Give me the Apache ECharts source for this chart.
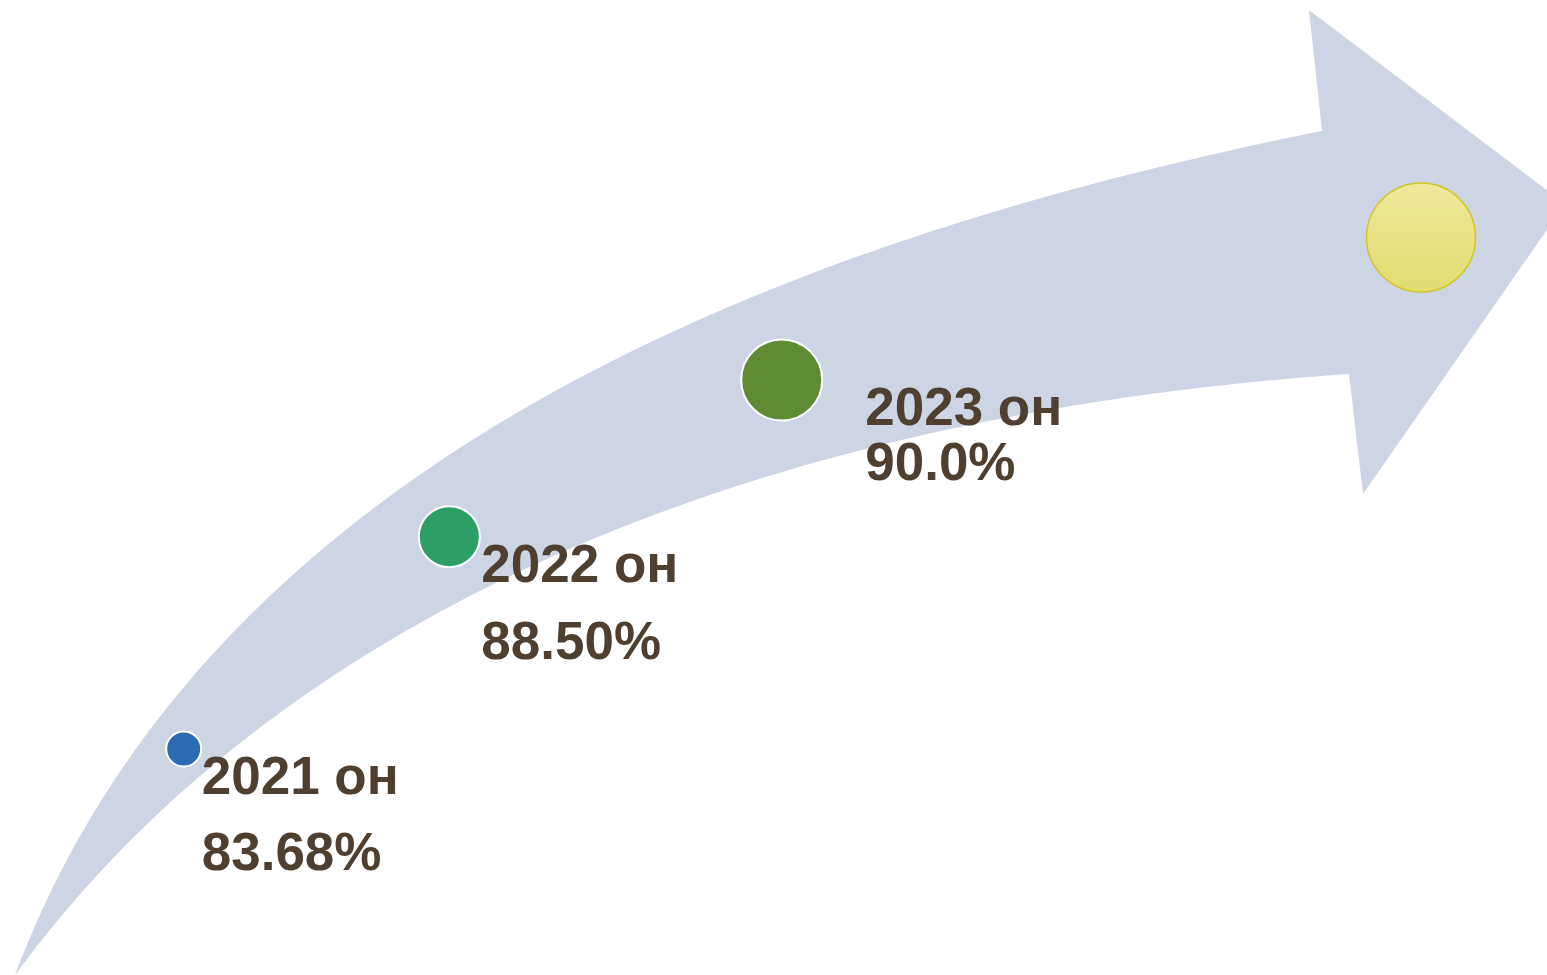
<!DOCTYPE html>
<html>
<head>
<meta charset="utf-8">
<script src="https://cdn.jsdelivr.net/npm/echarts@6/dist/echarts.min.js"></script>
<style>
  html, body { margin: 0; padding: 0; background: #ffffff; }
  #chart { width: 1547px; height: 975px; }
</style>
</head>
<body>
<div id="chart"></div>
<script>
// ---- data ----
const years = ['2021', '2022', '2023', '2024'];
const yearSuffix = 'он';
const rates = [83.68, 88.50, 90.0, null];
const rateDecimals = [2, 2, 1, 0];

// ---- layout (positions along the arrow, bubble sizes, label placement) ----
const trackX = [183.7, 449.3, 781.7, 1421];
const trackY = [749, 536.7, 380, 237.5];
const bubbleSize = [35, 61, 81, 109];
const labelOffset = [[18, -8], [32, -7.5], [83.5, 3], [0, 0]];
const labelLineHeight = [76, 77, 55, 55];
const bubbleColor = ['#2a6cb1', '#2e9e69', '#5f8b34', null];

// ---- decorative arrow outline (traced edge samples, smoothed by a cubic fit) ----
const upperEdge = [[15,975],[47,895],[83,825],[133,748],[200,665],[267,598],[367,512],[440,463],[490,430],[573,383],[673,333],[773,291],[873,252],[1000,207],[1110,177],[1322,131]];
const lowerEdge = [[1349,374],[1110,400],[960,430],[840,457],[740,483],[640,517],[540,563],[440,613],[300,694],[203,778],[140,833],[83,888],[15,975]];
const headPts = [[1309,10],[1565,204],[1363,494]];

function fitCubic(pts) {
  const n = pts.length;
  const P0 = pts[0], P3 = pts[n - 1];
  const d = [0];
  for (let i = 1; i < n; i++) {
    d.push(d[i - 1] + Math.hypot(pts[i][0] - pts[i - 1][0], pts[i][1] - pts[i - 1][1]));
  }
  const T = d.map(v => v / d[n - 1]);
  let a11 = 0, a12 = 0, a22 = 0, rx1 = 0, rx2 = 0, ry1 = 0, ry2 = 0;
  for (let i = 0; i < n; i++) {
    const t = T[i], u = 1 - t;
    const b0 = u*u*u, b1 = 3*u*u*t, b2 = 3*u*t*t, b3 = t*t*t;
    const Rx = pts[i][0] - b0*P0[0] - b3*P3[0];
    const Ry = pts[i][1] - b0*P0[1] - b3*P3[1];
    a11 += b1*b1; a12 += b1*b2; a22 += b2*b2;
    rx1 += b1*Rx; rx2 += b2*Rx; ry1 += b1*Ry; ry2 += b2*Ry;
  }
  const det = a11*a22 - a12*a12;
  const C1 = [(rx1*a22 - a12*rx2) / det, (ry1*a22 - a12*ry2) / det];
  const C2 = [(a11*rx2 - a12*rx1) / det, (a11*ry2 - a12*ry1) / det];
  const out = [];
  const steps = 120;
  for (let s = 0; s <= steps; s++) {
    const t = s / steps, u = 1 - t;
    out.push([
      u*u*u*P0[0] + 3*u*u*t*C1[0] + 3*u*t*t*C2[0] + t*t*t*P3[0],
      u*u*u*P0[1] + 3*u*u*t*C1[1] + 3*u*t*t*C2[1] + t*t*t*P3[1]
    ]);
  }
  return out;
}
const arrowPoints = fitCubic(upperEdge).concat(headPts, fitCubic(lowerEdge));

const chart = echarts.init(document.getElementById('chart'), null, { renderer: 'canvas' });

const seriesData = years.map((y, i) => {
  const item = {
    value: [trackX[i], trackY[i]],
    symbolSize: bubbleSize[i]
  };
  if (rates[i] == null) {
    item.itemStyle = {
      color: new echarts.graphic.LinearGradient(0, 0, 0, 1, [
        { offset: 0, color: '#efe99c' },
        { offset: 1, color: '#e1dd70' }
      ]),
      borderColor: '#d2c61e',
      borderWidth: 1.5,
      opacity: 1
    };
    item.label = { show: false };
  } else {
    item.itemStyle = { color: bubbleColor[i], borderColor: '#ffffff', borderWidth: 2, opacity: 1 };
    item.label = {
      show: true,
      position: 'inside',
      offset: labelOffset[i],
      align: 'left',
      verticalAlign: 'top',
      lineHeight: labelLineHeight[i],
      formatter: y + ' ' + yearSuffix + '\n' + rates[i].toFixed(rateDecimals[i]) + '%'
    };
  }
  return item;
});

chart.setOption({
  animation: false,
  backgroundColor: '#ffffff',
  grid: { left: 0, right: 0, top: 0, bottom: 0 },
  xAxis: { type: 'value', min: 0, max: 1547, show: false },
  yAxis: { type: 'value', min: 0, max: 975, inverse: true, show: false },
  graphic: [{
    type: 'polygon',
    z: -10,
    silent: true,
    shape: { points: arrowPoints },
    style: { fill: '#cdd5e4' }
  }],
  series: [{
    type: 'scatter',
    symbol: 'circle',
    z: 5,
    itemStyle: { opacity: 1 },
    emphasis: { disabled: true },
    label: {
      color: '#4e3f30',
      opacity: 1,
      fontFamily: '"Liberation Sans", Arial, sans-serif',
      fontWeight: 'bold',
      fontSize: 53
    },
    data: seriesData
  }]
});
</script>
</body>
</html>
